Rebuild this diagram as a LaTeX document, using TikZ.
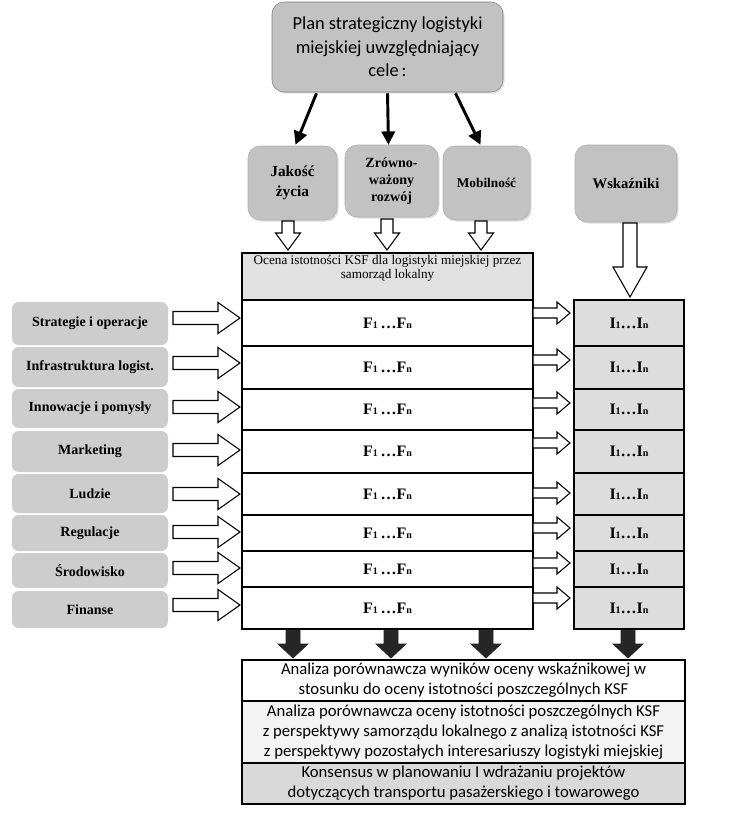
\documentclass[tikz,border=0pt]{standalone}
\usepackage{fontspec}
\setmainfont{Liberation Serif}
\newfontfamily\calib{Carlito}
\usetikzlibrary{arrows.meta,shadows,calc}
\definecolor{goalgray}{HTML}{C2C2C2}
\definecolor{leftgray}{HTML}{CDCDCD}
\definecolor{ocgray}{HTML}{E1E1E1}
\definecolor{igray}{HTML}{DDDDDD}
\definecolor{lightb}{HTML}{F3F3F3}
\definecolor{darkb}{HTML}{D9D9D9}
\def\pu{0.75pt}
% block arrows: style, x1, y, x2, shaft half, head half, head length
\newcommand\blkR[7]{\draw[#1] (#2,#3-#5) -- (#4-#7,#3-#5) -- (#4-#7,#3-#6) -- (#4,#3) -- (#4-#7,#3+#6) -- (#4-#7,#3+#5) -- (#2,#3+#5) -- cycle;}
% style, x, y1, y2, shaft half, head half, head length
\newcommand\blkD[7]{\draw[#1] (#2-#5,#3) -- (#2-#5,#4-#7) -- (#2-#6,#4-#7) -- (#2,#4) -- (#2+#6,#4-#7) -- (#2+#5,#4-#7) -- (#2+#5,#3) -- cycle;}
\newcommand\sml[1]{{\fontsize{7.5}{8}\selectfont #1}}
\begin{document}
\begin{tikzpicture}[x=0.75pt,y=-0.75pt,
  rbox/.style={rounded corners=9pt, fill=goalgray, draw=goalgray!90!black, line width=0.4pt,
    drop shadow={opacity=0.25,shadow xshift=1.2pt,shadow yshift=-1.2pt}, align=center, inner sep=2pt,
    font=\fontsize{11}{15}\selectfont\bfseries},
  lbox/.style={rounded corners=5pt, fill=leftgray, draw=none, align=center, inner sep=1pt,
    minimum width=156*\pu, font=\fontsize{10.5}{12}\selectfont\bfseries},
  fbox/.style={rectangle, draw=black, line width=0.8pt, fill=white, minimum width=291*\pu,
    font=\fontsize{12}{14}\selectfont\bfseries, inner sep=0pt},
  ibox/.style={rectangle, draw=black, line width=0.8pt, fill=igray, minimum width=110*\pu,
    font=\fontsize{12}{14}\selectfont\bfseries, inner sep=0pt},
  bbox/.style={rectangle, draw=black, line width=0.8pt, minimum width=443*\pu, align=center,
    font=\calib\fontsize{12.5}{15}\selectfont, inner sep=0pt},
  hollow/.style={draw=black, fill=white, line width=0.8pt, line join=miter},
  solid/.style={draw=black!85, fill=black!85, line width=0.5pt},
  thinarr/.style={line width=2.2pt, -{Triangle[length=10pt,width=10pt]}}]
\useasboundingbox (0,0) rectangle (747,824);

% top box
\node[rbox, minimum width=231*\pu, minimum height=90*\pu, draw=gray, font=\calib\fontsize{13.8}{17.5}\selectfont]
  (top) at (387.5,47) {Plan strategiczny logistyki\\miejskiej uwzględniający\\cele\,:};

% goals
\node[rbox, minimum width=89*\pu, minimum height=74*\pu, font=\fontsize{11.5}{15}\selectfont\bfseries] (jak) at (292.5,183) {Jakość\\życia};
\node[rbox, minimum width=93*\pu, minimum height=72*\pu, font=\fontsize{10.5}{13}\selectfont\bfseries]
  (zrow) at (391.5,181) {Zrówno-\\ważony\\rozwój};
\node[rbox, minimum width=87*\pu, minimum height=74*\pu, font=\fontsize{10}{13}\selectfont\bfseries] (mob) at (486.5,183) {Mobilność};
\node[rbox, minimum width=102*\pu, minimum height=77*\pu] (wsk) at (626,183.5) {Wskaźniki};

\draw[thinarr] ($(top.south)+(-71,1)$) -- ($(jak.north)+(3,-1)$);
\draw[thinarr] ($(top.south)+(0,1)$) -- ($(zrow.north)+(-3,0)$);
\draw[thinarr] ($(top.south)+(68,1)$) -- ($(mob.north)+(-6,-1)$);

% hollow arrows below goals
\blkD{hollow}{288}{221}{250}{6}{12.5}{17}
\blkD{hollow}{387}{219}{250}{6}{12.5}{17}
\blkD{hollow}{481}{221}{250}{6}{12.5}{17}
\blkD{hollow}{630}{223}{297}{7}{17}{30}

% Ocena box
\node[rectangle, draw=black, line width=0.8pt, fill=ocgray, minimum width=291*\pu, minimum height=47*\pu]
  (ocena) at (387.5,276.5) {};
\node[anchor=north, align=center, font=\fontsize{9.9}{10.5}\selectfont, inner sep=0pt]
  (ocenaT) at ($(ocena.north)+(0,3)$) {Ocena istotności KSF dla logistyki miejskiej przez\\samorząd lokalny};

% rows
\foreach \i/\ya/\yb in {1/300/346,2/346/389,3/389/430,4/430/473,5/473/515,6/515/551,7/551/587,8/587/629}{
  \node[fbox, minimum height={(\yb-\ya)*\pu}] (f\i) at (387.5,{(\ya+\yb)/2})
    {F\sml{1}\,\ldots F\sml{n}};
  \node[ibox, minimum height={(\yb-\ya)*\pu}] (i\i) at (629,{(\ya+\yb)/2})
    {I\sml{1}\ldots I\sml{n}};
}

% left boxes
\node[lbox, minimum height=43*\pu] (l1) at (90,323.5) {Strategie i operacje};
\node[lbox, minimum height=40*\pu] (l2) at (90,367) {Infrastruktura logist.};
\node[lbox, minimum height=39*\pu] (l3) at (90,408.5) {Innowacje i pomysły};
\node[lbox, minimum height=41*\pu] (l4) at (90,451.5) {Marketing};
\node[lbox, minimum height=39*\pu] (l5) at (90,493.5) {Ludzie};
\node[lbox, minimum height=36*\pu] (l6) at (90,533) {Regulacje};
\node[lbox, minimum height=35*\pu] (l7) at (90,570.5) {Środowisko};
\node[lbox, minimum height=37*\pu] (l8) at (90,609.5) {Finanse};

% left hollow arrows
\foreach \y in {318,363,407,450,494,532,568,605}{
  \blkR{hollow}{173}{\y}{240}{6.5}{15.5}{22}
}
% F -> I small hollow arrows
\foreach \y in {313,360,403,443,493,528,563,598}{
  \blkR{hollow}{533}{\y}{570}{5}{11}{13}
}

% black arrows down
\foreach \x in {293,391,486,628}{
  \blkD{solid}{\x}{630}{658}{7}{15}{14}
}

% bottom boxes
\node[bbox, fill=white, minimum height=41*\pu] (b1) at (463.5,680.5)
  {Analiza porównawcza wyników oceny wskaźnikowej w\\stosunku do oceny istotności poszczególnych KSF};
\node[bbox, fill=lightb, minimum height=62*\pu] (b2) at (463.5,732)
  {Analiza porównawcza oceny istotności poszczególnych KSF\\z perspektywy samorządu lokalnego z analizą istotności KSF\\z perspektywy pozostałych interesariuszy logistyki miejskiej};
\node[bbox, fill=darkb, minimum height=41*\pu] (b3) at (463.5,783.5)
  {Konsensus w planowaniu I wdrażaniu projektów\\dotyczących transportu pasażerskiego i towarowego};
\end{tikzpicture}
\end{document}
